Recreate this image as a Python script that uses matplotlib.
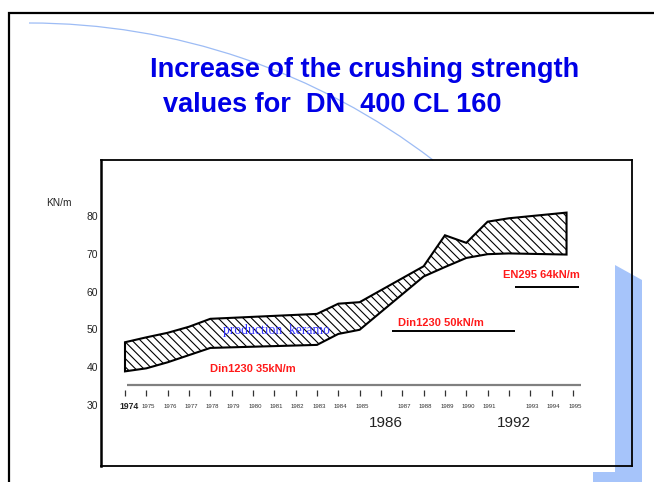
import numpy as np
import matplotlib
matplotlib.use('Agg')
import matplotlib.pyplot as plt
from matplotlib.patches import Arc, Polygon

plt.rcParams['font.family'] = ['Liberation Sans', 'DejaVu Sans']
plt.rcParams['hatch.linewidth'] = 0.8

# band of crushing strength values (kN/m)
years = [1974, 1975, 1976, 1977, 1978, 1983, 1984, 1985, 1988, 1989, 1990, 1991, 1992, 1994.7]
upper = [46.6, 47.9, 49.1, 50.7, 52.8, 54.1, 56.8, 57.2, 66.7, 74.9, 72.9, 78.5, 79.4, 80.9]
lower = [38.9, 39.7, 41.3, 43.2, 45.1, 45.9, 48.8, 49.9, 64.0, 66.5, 68.9, 69.9, 70.1, 69.8]

# norm requirements
norm_names = ['Din1230 35kN/m', 'Din1230 50kN/m', 'EN295 64kN/m']
norm_level = [49.7, 61.3]
norm_from = [1986.5, 1992.3]
norm_to = [1992.3, 1995.3]

y_ticks = [30, 40, 50, 60, 70, 80]
axis_years = list(range(1974, 1996))
big_years = [1986, 1992]

W, H = 654, 482
fig = plt.figure(figsize=(W / 100, H / 100), dpi=100)

# slide background (pixel coords, y down)
bg = fig.add_axes([0, 0, 1, 1], zorder=0)
bg.set_xlim(0, W)
bg.set_ylim(H, 0)
bg.axis('off')

blue_deco = '#a6c4fa'
bg.add_patch(Polygon([(615, 265), (642, 280), (642, 482), (615, 482)],
                     closed=True, facecolor=blue_deco, edgecolor='none'))
bg.add_patch(Polygon([(593, 472), (642, 472), (642, 482), (593, 482)],
                     closed=True, facecolor=blue_deco, edgecolor='none'))
bg.add_patch(Arc((29, 687), 2 * 664, 2 * 664, theta1=-90, theta2=-52.5,
                 color='#9dbcf5', lw=0.9))
bg.plot([8.5, 8.5, 654], [482, 12.5, 12.5], color='black', lw=1.6,
        solid_joinstyle='miter')

title_blue = '#0000e6'
bg.text(150, 77, 'Increase of the crushing strength', fontsize=19.5,
        fontweight='bold', color=title_blue, ha='left', va='baseline')
bg.text(163, 112, 'values for  DN  400 CL 160', fontsize=19.5,
        fontweight='bold', color=title_blue, ha='left', va='baseline')
bg.text(46, 203, 'KN/m', fontsize=7.3, color='#222222', ha='left', va='center')

# chart box
ax = fig.add_axes([101 / W, 1 - 466 / H, (632 - 101) / W, (466 - 160) / H], zorder=2)
ax.patch.set_alpha(0)
ax.set_xlim(1974 + (101 - 125) / 21.33, 1974 + (632 - 125) / 21.33)
ax.set_ylim(30 - (466 - 405) / 3.78, 30 + (405 - 160) / 3.78)
for s in ax.spines.values():
    s.set_color('black')
    s.set_linewidth(1.3)
ax.spines['left'].set_linewidth(1.8)

ax.set_xticks([])
ax.set_yticks(y_ticks)
ax.tick_params(axis='y', length=0, pad=2, labelsize=7.5, labelcolor='#222222')

# hatched band
band_x = np.r_[years, years[::-1]]
band_y = np.r_[upper, lower[::-1]]
ax.fill(band_x, band_y, facecolor='none', edgecolor='black', hatch='\\\\\\\\', lw=1.5)

# time axis
ax.plot([1974.1, 1995.4], [35.2, 35.2], color='#808080', lw=1.6, solid_capstyle='butt')
ax.vlines(axis_years, 32.4, 34.0, color='#333333', lw=0.9)
for yr in axis_years:
    if yr == 1974:
        ax.text(yr + 0.2, 29.7, str(yr), fontsize=6.2, fontweight='bold',
                ha='center', va='center', color='#222222')
    elif yr in big_years:
        ax.text(yr + 0.25, 25.2, str(yr), fontsize=11,
                ha='center', va='center', color='#222222')
    else:
        ax.text(yr + 0.1, 29.7, str(yr), fontsize=4.3,
                ha='center', va='center', color='#333333')

# norms
red = '#ff1a1a'
ax.text(1978.0, 39.5, norm_names[0], fontsize=8, fontweight='bold', color=red,
        ha='left', va='center')
ax.text(1986.8, 51.7, norm_names[1], fontsize=8, fontweight='bold', color=red,
        ha='left', va='center')
ax.text(1991.7, 64.4, norm_names[2], fontsize=8, fontweight='bold', color=red,
        ha='left', va='center')
ax.hlines(norm_level, norm_from, norm_to, color='black', lw=1.4)

ax.text(1978.6, 49.6, 'production  keramo', fontsize=9.8, family='Liberation Serif',
        color='#3333ff', ha='left', va='center')

fig.savefig('out.png', dpi=100)
